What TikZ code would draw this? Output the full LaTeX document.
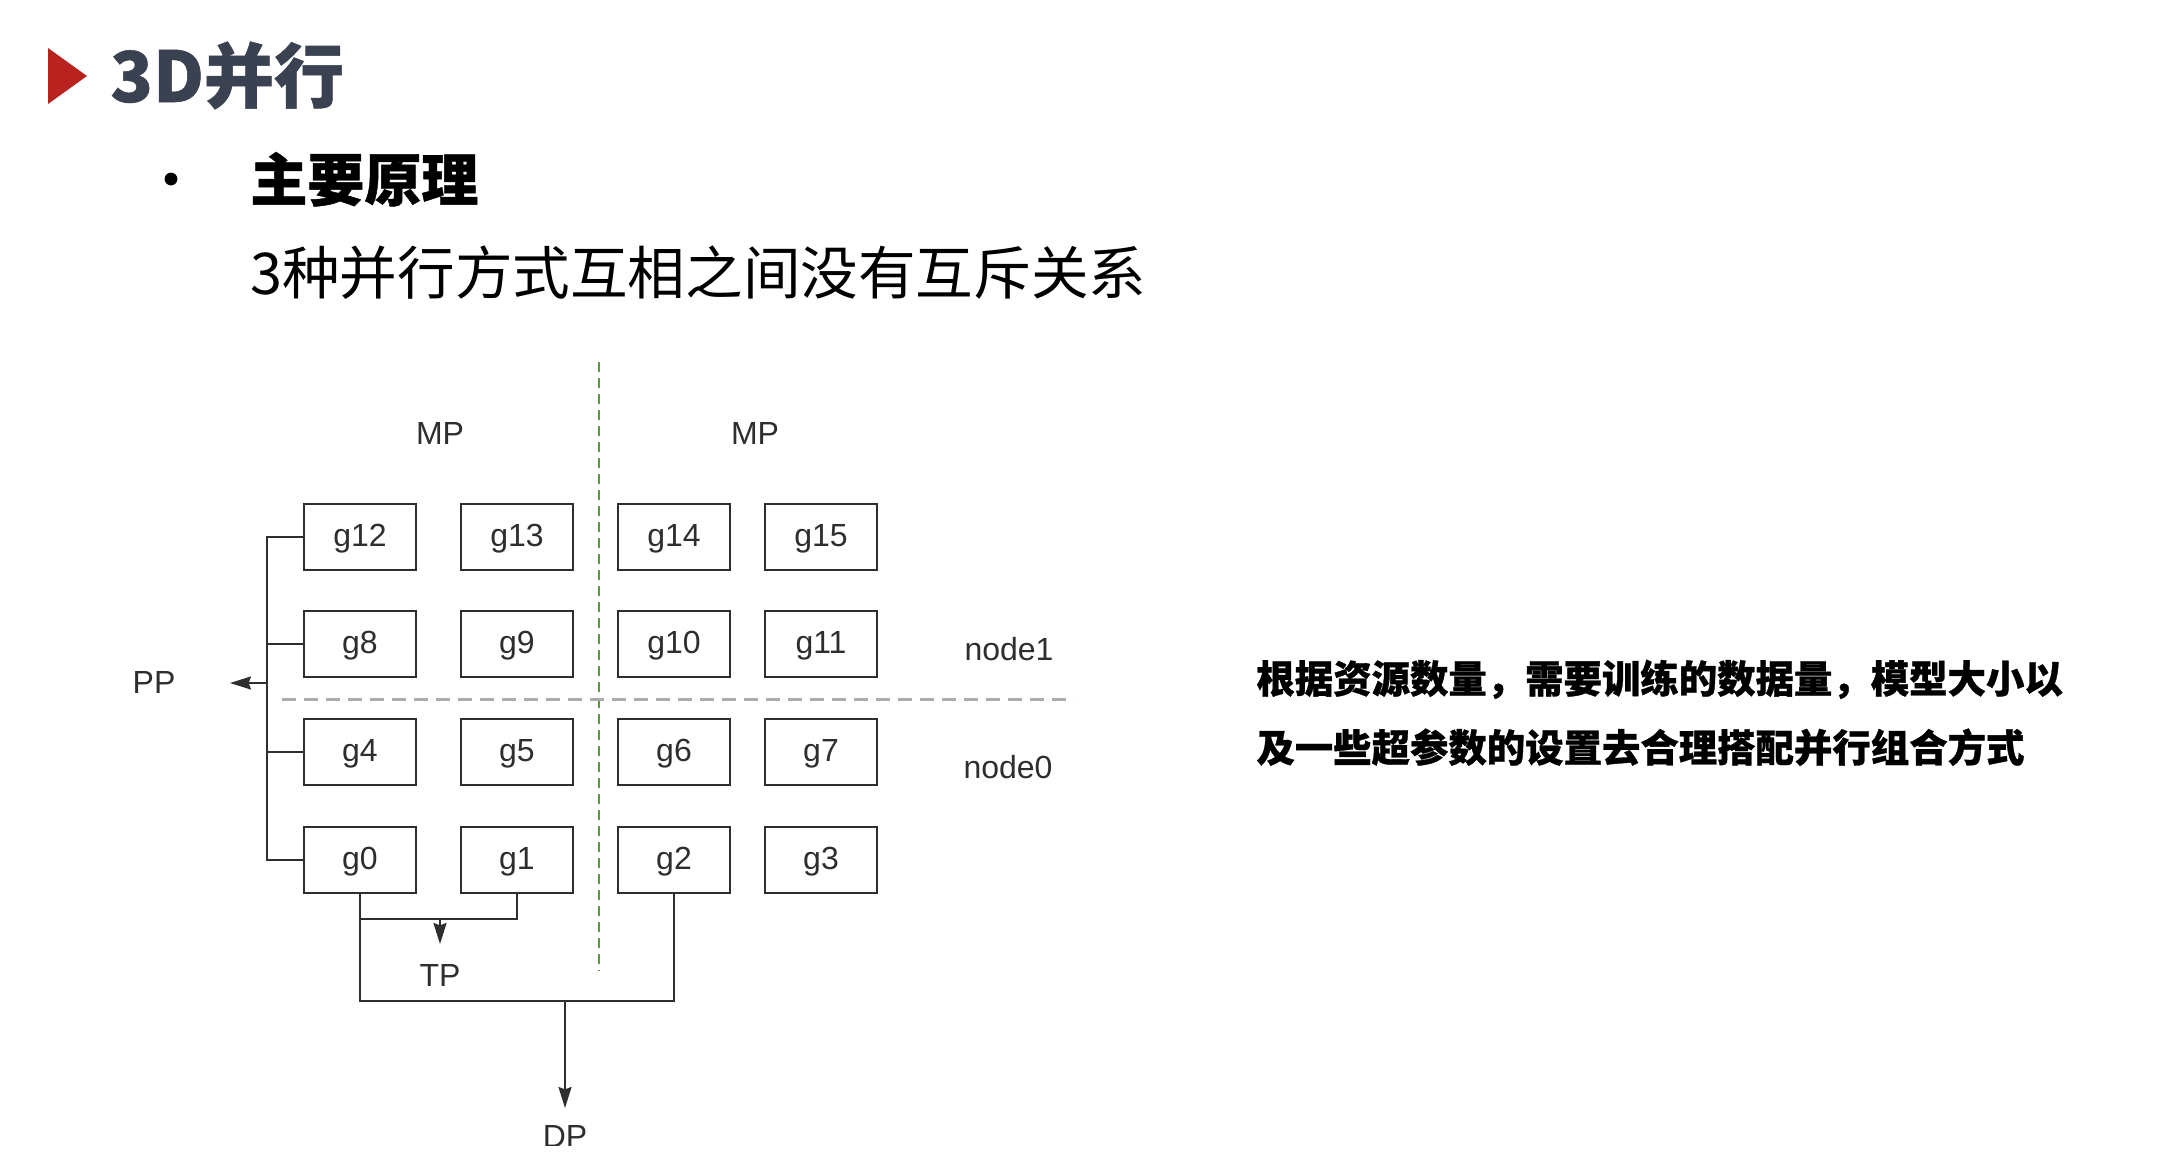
\documentclass[tikz,border=0pt]{standalone}
\usepackage{fontspec}
\setmainfont{Liberation Sans}
\newfontfamily\cjk{Noto Sans CJK SC}
\newfontfamily\cjkheavy[BoldFeatures={FakeBold=0.8}]{Noto Sans CJK SC}
\usetikzlibrary{arrows.meta}

\definecolor{titlered}{HTML}{B8231F}
\definecolor{titleink}{HTML}{3A4150}
\definecolor{ink}{HTML}{2E2E2E}
\definecolor{mpgreen}{HTML}{5E9A3C}
\definecolor{splitgray}{HTML}{ABABAB}

\tikzset{
  gpu/.style={draw=ink, line width=1.4pt, minimum width=56pt, minimum height=33pt,
    inner sep=0pt, text=ink, font=\fontsize{16}{18}\selectfont,
    text height=0.97em, text depth=0pt},
  lbl/.style={inner sep=0pt, text=ink, font=\fontsize{16}{18}\selectfont,
    text height=0.72em, text depth=0pt},
  wire/.style={draw=ink, line width=1pt},
  tip/.style={-{Stealth[length=10.5pt,width=6.5pt,inset=1.2pt]}},
  heading/.style={anchor=base west, inner sep=0pt},
}

\begin{document}
\begin{tikzpicture}[x=0.5pt, y=-0.5pt]
\useasboundingbox (0,0) rectangle (2164,1168);
\fill[white] (0,0) rectangle (2164,1168);

% slide heading
\fill[titlered] (48,48) -- (87,76) -- (48,104) -- cycle;
\node[heading, text=titleink] (title) at (110,102)
  {\cjkheavy\bfseries\fontsize{35}{40}\selectfont 3D并行};
\fill[black] (171,179) circle (3.2pt);
\node[heading] (sub) at (250,201)
  {\cjkheavy\bfseries\fontsize{28.5}{32}\selectfont 主要原理};
\node[heading] (body) at (250,294)
  {\cjk\fontsize{28.8}{32}\selectfont 3种并行方式互相之间没有互斥关系};

% note on the right
\node[heading] (note1) at (1256,693)
  {\cjkheavy\bfseries\fontsize{19.2}{22}\selectfont 根据资源数量，需要训练的数据量，模型大小以};
\node[heading] (note2) at (1256,762)
  {\cjkheavy\bfseries\fontsize{19.2}{22}\selectfont 及一些超参数的设置去合理搭配并行组合方式};

% separators: model-parallel split and node split
\coordinate (mptop) at (599,362);
\coordinate (mpbot) at (599,971);
\draw[mpgreen, line width=1pt, dash pattern=on 5pt off 3pt] (mptop) -- (mpbot);
\coordinate (nsleft) at (282,699);
\coordinate (nsright) at (1074,699);
\draw[splitgray, line width=1.5pt, dash pattern=on 7pt off 4pt] (nsleft) -- (nsright);

% GPU grid
\node[gpu] (g12) at (360,537) {g12};
\node[gpu] (g13) at (517,537) {g13};
\node[gpu] (g14) at (674,537) {g14};
\node[gpu] (g15) at (821,537) {g15};
\node[gpu] (g8)  at (360,644) {g8};
\node[gpu] (g9)  at (517,644) {g9};
\node[gpu] (g10) at (674,644) {g10};
\node[gpu] (g11) at (821,644) {g11};
\node[gpu] (g4)  at (360,752) {g4};
\node[gpu] (g5)  at (517,752) {g5};
\node[gpu] (g6)  at (674,752) {g6};
\node[gpu] (g7)  at (821,752) {g7};
\node[gpu] (g0)  at (360,860) {g0};
\node[gpu] (g1)  at (517,860) {g1};
\node[gpu] (g2)  at (674,860) {g2};
\node[gpu] (g3)  at (821,860) {g3};

% labels
\node[lbl] (mp1) at (440,437) {MP};
\node[lbl] (mp2) at (755,437) {MP};
\node[lbl] (n1) at (1009,653) {node1};
\node[lbl] (n0) at (1008,771) {node0};
\node[lbl] (pp) at (154,686) {PP};
\node[lbl] (tp) at (440,979) {TP};

% pipeline bracket
\coordinate (spine) at (267,0);
\coordinate (pptip) at (230,683);
\draw[wire] (g12.west) -- (g12.west -| spine) -- (g0.west -| spine) -- (g0.west);
\draw[wire] (g8.west) -- (g8.west -| spine);
\draw[wire] (g4.west) -- (g4.west -| spine);
\draw[wire, tip] (pptip -| spine) -- (pptip);

% tensor parallel
\coordinate (tpbar) at (440,919);
\coordinate (tptip) at (440,944);
\draw[wire] (g1.south) |- (g0.south |- tpbar);
\draw[wire, tip] (tpbar) -- (tptip);

% data parallel
\coordinate (dpbar) at (565,1001);
\coordinate (dptip) at (565,1108);
\draw[wire] (g0.south) -- (g0.south |- dpbar) -- (g2.south |- dpbar) -- (g2.south);
\draw[wire, tip] (dpbar) -- (dptip);
\begin{scope}
  \clip (0,0) rectangle (2164,1145);
  \node[lbl] (dp) at (565,1140) {DP};
\end{scope}
\end{tikzpicture}
\end{document}
